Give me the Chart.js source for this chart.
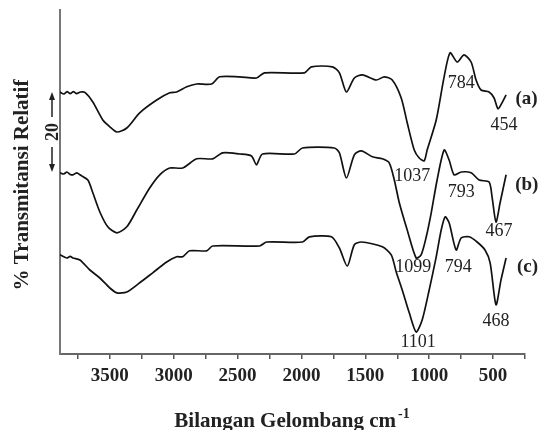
<!DOCTYPE html>
<html>
<head>
<meta charset="utf-8">
<script src="https://cdn.jsdelivr.net/npm/chart.js@4.4.1/dist/chart.umd.min.js"></script>
<style>
  html, body { margin: 0; padding: 0; background: #fff; }
  #spectra { display: block; }
</style>
</head>
<body>
<canvas id="spectra" width="540" height="430"></canvas>
<script>
/* Spectrum (a) */
const waveA = [3890, 3860, 3835, 3810, 3785, 3760, 3730, 3695, 3633, 3555, 3500, 3445, 3367, 3266, 3133, 3031, 2977, 2898, 2820, 2703, 2641, 2484, 2352, 2289, 1977, 1922, 1758, 1703, 1648, 1586, 1523, 1414, 1352, 1289, 1219, 1172, 1117, 1078, 1039, 1016, 945, 883, 836, 781, 727, 672, 633, 594, 531, 492, 461, 430, 398];
const transA = [65.5, 65.0, 65.6, 65.1, 65.6, 65.1, 65.5, 65.4, 63.0, 58.5, 56.8, 55.5, 56.5, 60.3, 63.5, 65.3, 65.5, 66.8, 67.5, 67.5, 69.3, 69.3, 69.0, 70.3, 70.3, 71.8, 71.8, 70.3, 65.5, 69.0, 69.8, 68.5, 69.3, 68.5, 64.0, 57.8, 51.0, 49.0, 48.3, 51.0, 58.5, 69.3, 75.3, 73.0, 74.8, 73.0, 68.5, 66.0, 65.5, 64.0, 61.3, 62.8, 64.8];

/* Spectrum (b) */
const waveB = [3890, 3860, 3836, 3810, 3789, 3758, 3734, 3672, 3633, 3578, 3516, 3445, 3367, 3289, 3188, 3109, 3031, 2930, 2820, 2695, 2617, 2484, 2391, 2352, 2305, 2055, 1992, 1742, 1703, 1648, 1586, 1531, 1445, 1367, 1313, 1273, 1234, 1172, 1102, 1063, 1023, 984, 938, 883, 844, 805, 750, 672, 609, 531, 508, 477, 445, 398];
const transB = [45.3, 45.0, 45.5, 44.9, 44.8, 45.3, 44.8, 43.5, 40.3, 35.5, 31.8, 30.3, 31.8, 36.0, 41.5, 44.8, 46.5, 46.5, 48.8, 48.8, 50.3, 50.0, 49.5, 47.3, 50.0, 50.0, 51.5, 51.5, 50.3, 44.0, 49.8, 50.8, 49.3, 48.8, 47.8, 43.5, 37.8, 31.0, 24.0, 24.8, 29.3, 35.3, 43.5, 51.0, 48.5, 44.8, 45.5, 45.3, 43.5, 43.0, 39.3, 33.0, 37.8, 44.8];

/* Spectrum (c) */
const waveC = [3890, 3860, 3836, 3810, 3789, 3734, 3656, 3578, 3500, 3445, 3367, 3266, 3164, 3055, 2977, 2930, 2875, 2742, 2695, 2328, 2273, 1992, 1938, 1766, 1703, 1641, 1586, 1531, 1367, 1297, 1258, 1211, 1156, 1102, 1055, 1000, 945, 906, 875, 844, 789, 750, 688, 625, 563, 523, 477, 438, 398];
const transC = [24.8, 24.3, 24.0, 24.4, 24.0, 23.5, 21.0, 19.0, 16.5, 15.3, 15.5, 17.8, 20.3, 23.0, 24.3, 24.3, 25.8, 25.8, 27.0, 27.0, 28.0, 28.0, 29.3, 29.3, 26.5, 22.0, 27.3, 28.0, 26.8, 24.8, 20.5, 16.0, 10.3, 5.5, 8.5, 16.0, 24.3, 31.0, 34.3, 32.8, 26.0, 29.0, 29.3, 28.0, 26.0, 22.8, 12.3, 18.5, 24.0];

/* Peak and series labels: text, wavenumber, transmittance */
const peakLabels = [
  ['784', 750, 67.6], ['454', 414, 57.2], ['1037', 1133, 44.5],
  ['793', 750, 40.5], ['467', 453, 30.7], ['1099', 1125, 21.7],
  ['794', 773, 21.7], ['468', 477, 8.2], ['1101', 1086, 3.0]
];
const seriesLabels = [['(a)', 238, 63.7], ['(b)', 236, 42.3], ['(c)', 230, 21.7]];

function toPoints(w, t) {
  return w.map((v, i) => ({ x: v, y: t[i] }));
}

const serif = "'Liberation Serif', 'Times New Roman', serif";

const textPlugin = {
  id: 'texts',
  afterDraw(chart) {
    const ctx = chart.ctx;
    const xs = chart.scales.x, ys = chart.scales.y;
    const area = chart.chartArea;
    ctx.save();
    ctx.fillStyle = '#222';

    // peak numbers
    ctx.font = '18px ' + serif;
    ctx.textAlign = 'center';
    ctx.textBaseline = 'middle';
    peakLabels.forEach(l => {
      ctx.fillText(l[0], xs.getPixelForValue(l[1]), ys.getPixelForValue(l[2]));
    });

    // (a) (b) (c)
    ctx.font = 'bold 19px ' + serif;
    seriesLabels.forEach(l => {
      ctx.fillText(l[0], xs.getPixelForValue(l[1]), ys.getPixelForValue(l[2]));
    });

    // y title
    ctx.save();
    ctx.translate(23, (area.top + area.bottom) / 2 + 3);
    ctx.rotate(-Math.PI / 2);
    ctx.font = 'bold 21px ' + serif;
    ctx.fillText('% Transmitansi Relatif', 0, 0);
    ctx.restore();

    // scale bar of 20 units
    const bx = 52;
    const bTop = ys.getPixelForValue(65.5);
    const bBot = ys.getPixelForValue(45.5);
    const mid = (bTop + bBot) / 2;
    ctx.strokeStyle = '#222';
    ctx.lineWidth = 1.5;
    ctx.beginPath();
    ctx.moveTo(bx, bTop + 3); ctx.lineTo(bx, mid - 15);
    ctx.moveTo(bx, mid + 15); ctx.lineTo(bx, bBot - 3);
    ctx.stroke();
    ctx.beginPath();
    ctx.moveTo(bx, bTop); ctx.lineTo(bx - 3, bTop + 8); ctx.lineTo(bx + 3, bTop + 8); ctx.closePath();
    ctx.moveTo(bx, bBot); ctx.lineTo(bx - 3, bBot - 8); ctx.lineTo(bx + 3, bBot - 8); ctx.closePath();
    ctx.fill();
    ctx.save();
    ctx.translate(bx, mid);
    ctx.rotate(-Math.PI / 2);
    ctx.font = 'bold 18px ' + serif;
    ctx.fillText('20', 0, 1);
    ctx.restore();

    // x title with superscript
    ctx.textAlign = 'left';
    ctx.textBaseline = 'alphabetic';
    const main = 'Bilangan Gelombang cm';
    ctx.font = 'bold 21px ' + serif;
    const wMain = ctx.measureText(main).width;
    ctx.font = 'bold 14px ' + serif;
    const wSup = ctx.measureText('-1').width;
    const x0 = 292 - (wMain + wSup + 2) / 2;
    ctx.font = 'bold 21px ' + serif;
    ctx.fillText(main, x0, 427);
    ctx.font = 'bold 14px ' + serif;
    ctx.fillText('-1', x0 + wMain + 2, 418);
    ctx.restore();
  }
};

const ctx = document.getElementById('spectra').getContext('2d');
const lineStyle = { borderColor: '#111', borderWidth: 1.7, pointRadius: 0, tension: 0.25, fill: false };

new Chart(ctx, {
  type: 'line',
  data: {
    datasets: [
      Object.assign({ label: '(a)', data: toPoints(waveA, transA) }, lineStyle),
      Object.assign({ label: '(b)', data: toPoints(waveB, transB) }, lineStyle),
      Object.assign({ label: '(c)', data: toPoints(waveC, transC) }, lineStyle)
    ]
  },
  options: {
    responsive: false,
    animation: false,
    layout: { padding: { top: 10, right: 15, left: 0, bottom: 0 } },
    plugins: { legend: { display: false }, tooltip: { enabled: false } },
    scales: {
      x: {
        type: 'linear',
        reverse: true,
        min: 250,
        max: 3890,
        afterFit(scale) { scale.height = 76; },
        ticks: {
          stepSize: 250,
          includeBounds: false,
          autoSkip: false,
          maxRotation: 0,
          padding: 6,
          color: '#222',
          font: { family: serif, size: 19, weight: 'bold' },
          callback: v => (v % 500 === 0 ? String(v) : '')
        },
        grid: { display: true, drawOnChartArea: false, drawTicks: true, tickLength: 5, color: '#555', lineWidth: 1.5 },
        border: { display: true, color: '#666', width: 2 }
      },
      y: {
        min: 0,
        max: 86,
        afterFit(scale) { scale.width = 60; },
        ticks: { display: false },
        grid: { display: false, drawTicks: false },
        border: { display: true, color: '#777', width: 2 }
      }
    }
  },
  plugins: [textPlugin]
});
</script>
</body>
</html>
